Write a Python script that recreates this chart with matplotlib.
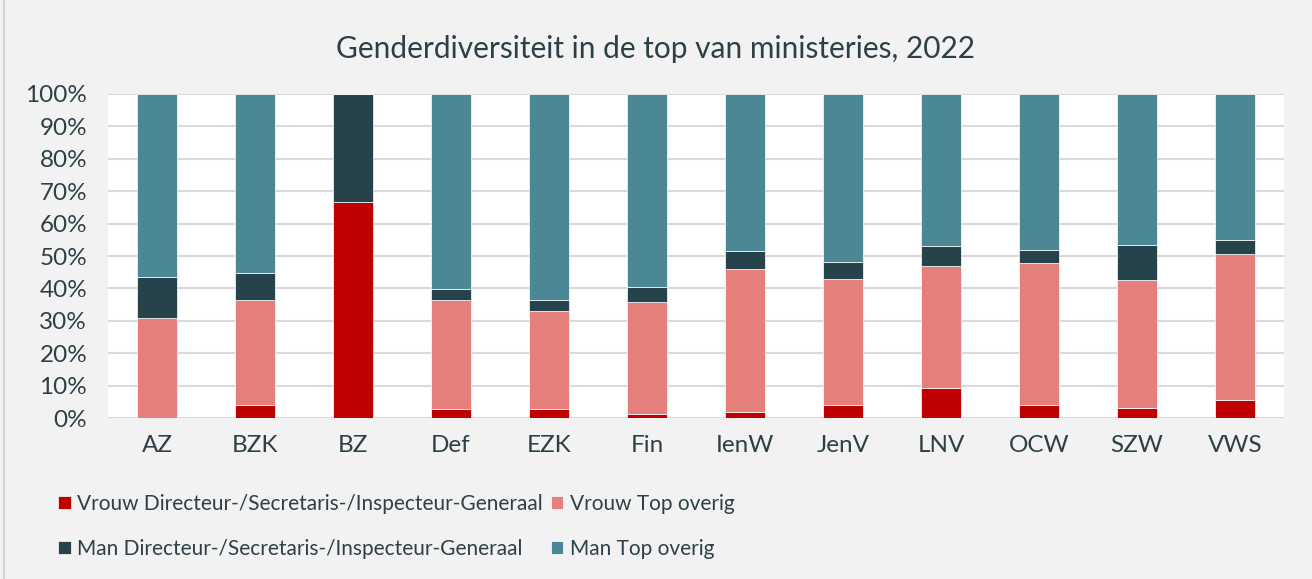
import matplotlib.pyplot as plt
import matplotlib.patches as mpatches
import numpy as np

ministeries = ['AZ', 'BZK', 'BZ', 'Def', 'EZK', 'Fin', 'IenW', 'JenV', 'LNV', 'OCW', 'SZW', 'VWS']

# aandelen in procenten, per ministerie
vrouw_dg = [0.0, 3.9, 66.7, 2.9, 2.9, 1.1, 1.9, 3.9, 9.2, 4.1, 3.2, 5.5]
vrouw_top = [31.0, 32.6, 0.0, 33.6, 30.2, 34.8, 44.0, 38.9, 37.6, 43.6, 39.5, 45.2]
man_dg = [12.5, 8.2, 33.3, 3.3, 3.3, 4.5, 5.6, 5.3, 6.2, 4.2, 10.7, 4.2]
man_top = [56.5, 55.3, 0.0, 60.2, 63.6, 59.6, 48.5, 51.9, 47.0, 48.1, 46.6, 45.1]

series = [
    ('Vrouw Directeur-/Secretaris-/Inspecteur-Generaal', vrouw_dg, '#c00000'),
    ('Vrouw Top overig', vrouw_top, '#e57f7c'),
    ('Man Directeur-/Secretaris-/Inspecteur-Generaal', man_dg, '#26424a'),
    ('Man Top overig', man_top, '#4b8794'),
]

txt = '#2e4047'
plt.rcParams['font.family'] = ['Lato', 'DejaVu Sans']

fig = plt.figure(figsize=(13.12, 5.79), dpi=100, facecolor='#f2f2f2')
fig.patches.append(mpatches.Rectangle((0.003, -0.01), 1.1, 1.1, transform=fig.transFigure,
                                      fill=False, edgecolor='#d0d0d0', lw=1.2))
ax = fig.add_axes([0.0823, 0.278, 0.8964, 0.5597])
ax.set_facecolor('white')

x = np.arange(len(ministeries))
bottom = np.zeros(len(ministeries))
handles = {}
for label, vals, col in series:
    vals = np.array(vals)
    b = ax.bar(x, vals, 0.4, bottom=bottom, color=col, edgecolor='#ffffff', linewidth=0.5,
               label=label, zorder=3)
    handles[label] = b
    bottom += vals

ax.set_xlim(-0.5, len(ministeries) - 0.5)
ax.set_ylim(0, 100)
ax.set_yticks(range(0, 101, 10))
ax.set_yticklabels([f'{v}%' for v in range(0, 101, 10)])
ax.set_xticks(x)
ax.set_xticklabels(ministeries)
ax.tick_params(axis='both', length=0, labelsize=17.5, colors=txt)
ax.tick_params(axis='y', pad=15)
ax.tick_params(axis='x', pad=12)
ax.grid(axis='y', color='#d9d9d9', lw=1.5, zorder=0)
for s in ax.spines.values():
    s.set_visible(False)

fig.suptitle('Genderdiversiteit in de top van ministeries, 2022', y=0.94, fontsize=21.5, color=txt)

order = [series[0][0], series[2][0], series[1][0], series[3][0]]
fig.legend([handles[k] for k in order], order, loc='upper left', bbox_to_anchor=(0.03, 0.18),
           ncol=2, frameon=False, fontsize=15, handlelength=0.6, handleheight=0.6,
           handletextpad=0.3, labelspacing=1.2, columnspacing=0.4, labelcolor=txt)

fig.savefig('out.png', dpi=100, facecolor=fig.get_facecolor())
